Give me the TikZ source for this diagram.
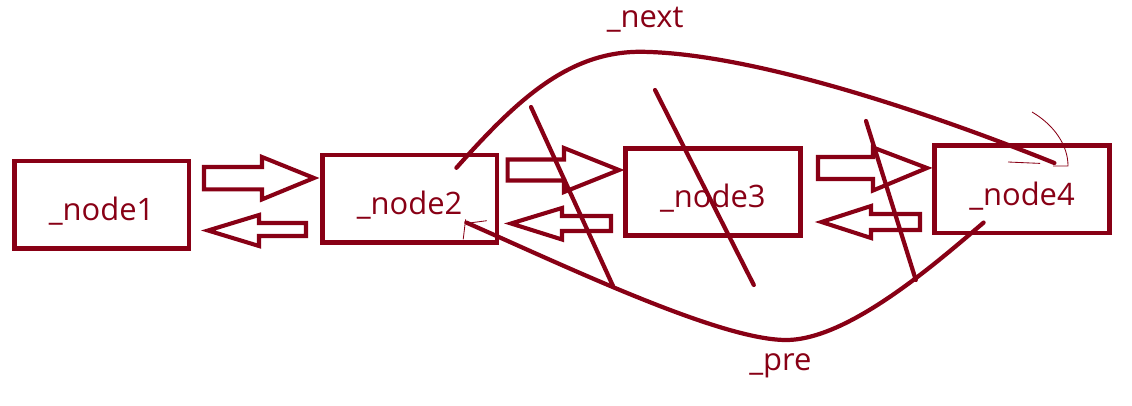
\documentclass[tikz,border=0pt]{standalone}
\usepackage{fontspec}
\setmainfont{Open Sans}
\usepackage{tikz}
\definecolor{pdred}{RGB}{136,0,21}

\begin{document}
\begin{tikzpicture}[
        every node/.style={text=pdred,font=\fontsize{22}{26}\selectfont},
        box/.style={draw=pdred,line width=3.3pt,minimum width=4.37cm,minimum height=2.18cm,text height=0.8cm,text depth=0pt},
        blk/.style={draw=pdred,line width=2.9pt,line join=miter},
        cur/.style={draw=pdred,line width=3pt,line cap=round},
        thinline/.style={draw=pdred,line width=0.6pt}]
                \useasboundingbox (0,0) rectangle (28.3,10.125);

                \node[box] (n1) at (2.54,5.01) {\_node1};
                \node[box] (n2) at (10.24,5.16) {\_node2};
                \node[box] (n3) at (17.82,5.33) {\_node3};
                \node[box] (n4) at (25.55,5.39) {\_node4};

                \node[anchor=base] (next) at (16.13,9.43) {\_next};
                \node[anchor=base] (pre) at (19.51,0.875) {\_pre};

                \draw[blk] (5.1,5.95) -- (6.55,5.95) -- (6.55,6.2) -- (7.85,5.675) -- (6.55,5.14) -- (6.55,5.39) -- (5.1,5.39) -- cycle;
                \draw[blk] (7.65,4.55) -- (6.475,4.55) -- (6.475,4.75) -- (5.2,4.3625) -- (6.475,3.975) -- (6.475,4.225) -- (7.65,4.225) -- cycle;
                \draw[blk] (12.69,6.1375) -- (14.1,6.1375) -- (14.1,6.425) -- (15.475,5.875) -- (14.1,5.325) -- (14.1,5.6125) -- (12.69,5.6125) -- cycle;
                \draw[blk] (15.275,4.725) -- (14.05,4.725) -- (14.05,4.925) -- (12.775,4.5375) -- (14.05,4.1375) -- (14.05,4.35) -- (15.275,4.35) -- cycle;
                \draw[blk] (20.45,6.2) -- (21.825,6.2) -- (21.825,6.4375) -- (23.175,5.925) -- (21.825,5.3625) -- (21.825,5.65) -- (20.45,5.65) -- cycle;
                \draw[blk] (23,4.775) -- (21.775,4.775) -- (21.775,4.975) -- (20.5375,4.575) -- (21.775,4.175) -- (21.775,4.375) -- (23,4.375) -- cycle;

                \draw[cur] (13.275,7.45) -- (15.325,2.975);
                \draw[cur] (16.375,7.875) -- (18.845,3.0);
                \draw[cur] (21.65,7.1) -- (22.895,3.125);

                \coordinate (nxs) at (11.41,5.93);
                \coordinate (nxe) at (26.36,6.05);
                \coordinate (prs) at (24.59,4.56);
                \coordinate (pre2) at (11.66,4.56);

                \draw[cur] (nxs) .. controls (12.9,7.6) and (14.2,8.85) .. (16.05,8.83) .. controls (18.5,8.8) and (22.5,7.6) .. (nxe);
                \draw[cur] (prs) .. controls (23.37,3.52) and (21.2,1.625) .. (19.65,1.625) .. controls (18,1.625) and (14.16,3.46) .. (pre2);

                \draw[thinline] (25.2,6.075) -- (26.0,6.04);
                \draw[thinline] (25.8,7.325) .. controls (26.35,7.0) and (26.7,6.5) .. (26.7,5.975) -- (26.33,5.975);
                \draw[thinline] (12.17,4.6075) -- (11.67,4.5425);
                \draw[thinline] (11.64,4.64) -- (11.58,4.14);

            \end{tikzpicture}
\end{document}
